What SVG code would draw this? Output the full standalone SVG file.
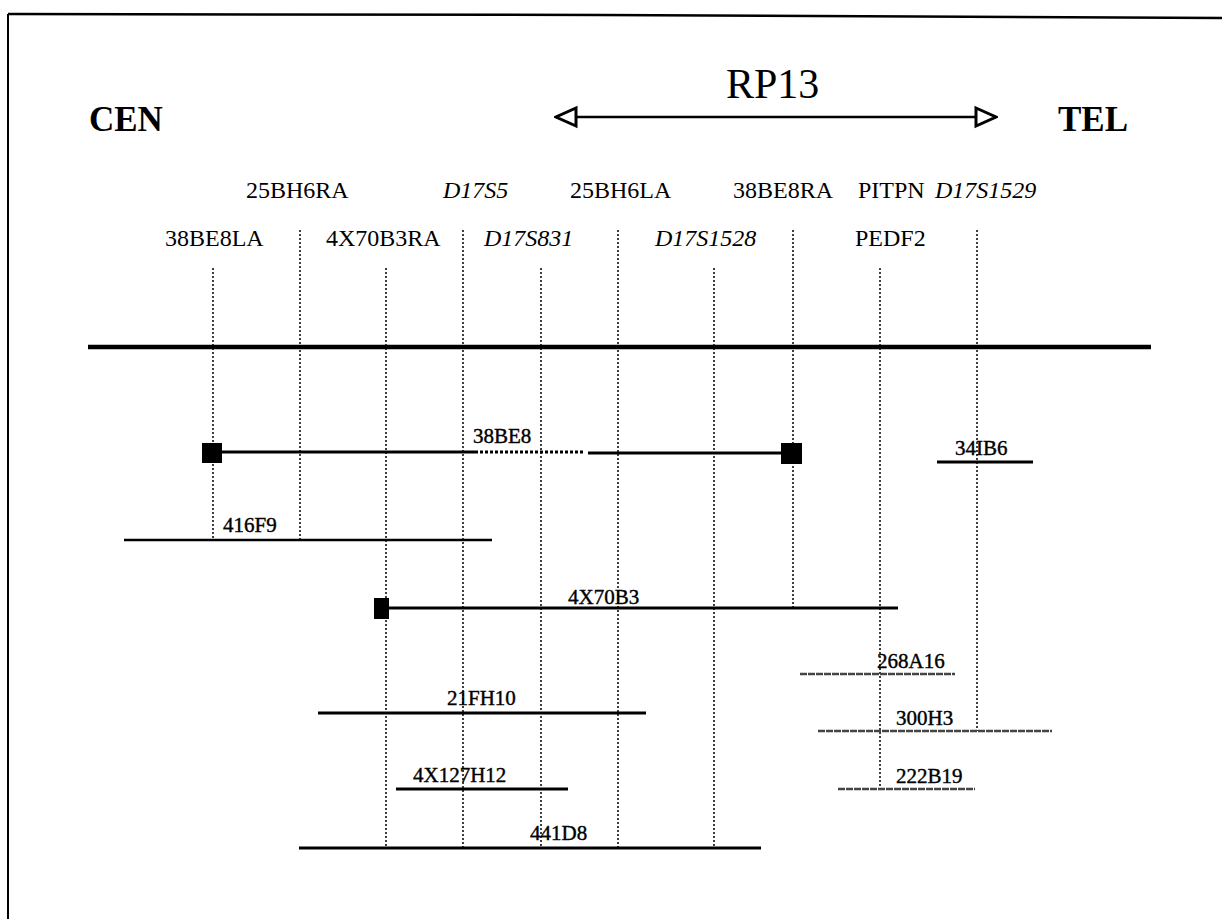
<svg xmlns="http://www.w3.org/2000/svg" width="1222" height="919" viewBox="0 0 1222 919">
<defs>
<style>
.lbl{font-family:"Liberation Serif","Times New Roman",serif;font-size:24px;fill:#000}
.it{font-style:italic}
.big{font-family:"Liberation Serif","Times New Roman",serif;font-size:35px;font-weight:bold;fill:#000}
.cl{font-family:"Liberation Serif","Times New Roman",serif;font-size:21px;fill:#000;stroke:#000;stroke-width:0.4}
.vd{stroke:#000;stroke-width:1.5;stroke-dasharray:2 2;fill:none}
.clone{stroke:#000;stroke-width:3;fill:none}
.thin{stroke:#444;stroke-width:2.5;fill:none;stroke-dasharray:7 1}
</style>
<marker id="openHead" viewBox="0 0 24 24" refX="22" refY="12" markerWidth="24" markerHeight="24" markerUnits="userSpaceOnUse" orient="auto-start-reverse">
<path d="M2,3 L22,12 L2,21 Z" fill="#fff" stroke="#000" stroke-width="3"/>
</marker>
</defs>
<rect width="1222" height="919" fill="#fff"/>
<g id="frame">
<path d="M8,14 L600,15 L1222,18" stroke="#000" stroke-width="2.5" fill="none"/>
<line x1="8" y1="14" x2="8" y2="919" stroke="#000" stroke-width="2"/>
</g>
<g id="header">
<text class="big" x="89" y="131">CEN</text>
<text class="big" x="1058" y="131">TEL</text>
<text x="726" y="98" style="font-family:'Liberation Serif','Times New Roman',serif;font-size:42px;fill:#000">RP13</text>
<line x1="556" y1="117" x2="996" y2="117" stroke="#000" stroke-width="2.5" marker-start="url(#openHead)" marker-end="url(#openHead)"/>
</g>
<g id="markers">
<text class="lbl" x="246" y="198">25BH6RA</text>
<text class="lbl it" x="443" y="198">D17S5</text>
<text class="lbl" x="570" y="198">25BH6LA</text>
<text class="lbl" x="733" y="198">38BE8RA</text>
<text class="lbl" x="858" y="198">PITPN</text>
<text class="lbl it" x="935" y="198">D17S1529</text>
<text class="lbl" x="165" y="246">38BE8LA</text>
<text class="lbl" x="326" y="246">4X70B3RA</text>
<text class="lbl it" x="484" y="246">D17S831</text>
<text class="lbl it" x="655" y="246">D17S1528</text>
<text class="lbl" x="855" y="246">PEDF2</text>
</g>
<g id="connectors">
<line class="vd" x1="213" y1="268" x2="213" y2="540"/>
<line class="vd" x1="300" y1="230" x2="300" y2="540"/>
<line class="vd" x1="386" y1="268" x2="386" y2="848"/>
<line class="vd" x1="463" y1="230" x2="463" y2="848"/>
<line class="vd" x1="541" y1="268" x2="541" y2="848"/>
<line class="vd" x1="618" y1="230" x2="618" y2="848"/>
<line class="vd" x1="714" y1="268" x2="714" y2="848"/>
<line class="vd" x1="793" y1="230" x2="793" y2="608"/>
<line class="vd" x1="880" y1="268" x2="880" y2="790"/>
<line class="vd" x1="977" y1="230" x2="977" y2="731"/>
</g>
<g id="chromosome">
<line x1="88" y1="347" x2="1151" y2="347" stroke="#000" stroke-width="4.5"/>
</g>
<g id="clone-38BE8">
<line class="clone" x1="222" y1="452" x2="478" y2="452"/>
<line x1="480" y1="452" x2="584" y2="452" stroke="#000" stroke-width="3" stroke-dasharray="3 2"/>
<line class="clone" x1="588" y1="453" x2="782" y2="453"/>
<rect x="202" y="443" width="20" height="20" fill="#000"/>
<rect x="781" y="443" width="21" height="21" fill="#000"/>
<text class="cl" x="473" y="443">38BE8</text>
</g>
<g id="clone-34IB6">
<line class="clone" x1="937" y1="462" x2="1033" y2="462"/>
<text class="cl" x="955" y="455">34IB6</text>
</g>
<g id="clone-416F9">
<line class="clone" x1="124" y1="540" x2="492" y2="540" style="stroke-width:2.5"/>
<text class="cl" x="223" y="532">416F9</text>
</g>
<g id="clone-4X70B3">
<line class="clone" x1="389" y1="608" x2="898" y2="608"/>
<rect x="374" y="598" width="15" height="21" fill="#000"/>
<text class="cl" x="568" y="604">4X70B3</text>
</g>
<g id="clone-268A16">
<line class="thin" x1="800" y1="674" x2="955" y2="674"/>
<text class="cl" x="877" y="668">268A16</text>
</g>
<g id="clone-21FH10">
<line class="clone" x1="318" y1="713" x2="646" y2="713"/>
<text class="cl" x="447" y="705">21FH10</text>
</g>
<g id="clone-300H3">
<line class="thin" x1="818" y1="731" x2="1052" y2="731"/>
<text class="cl" x="896" y="725">300H3</text>
</g>
<g id="clone-4X127H12">
<line class="clone" x1="396" y1="789" x2="568" y2="789"/>
<text class="cl" x="413" y="782">4X127H12</text>
</g>
<g id="clone-222B19">
<line class="thin" x1="838" y1="789" x2="975" y2="789"/>
<text class="cl" x="896" y="783">222B19</text>
</g>
<g id="clone-441D8">
<line class="clone" x1="299" y1="848" x2="761" y2="848"/>
<text class="cl" x="530" y="840">441D8</text>
</g>
</svg>
